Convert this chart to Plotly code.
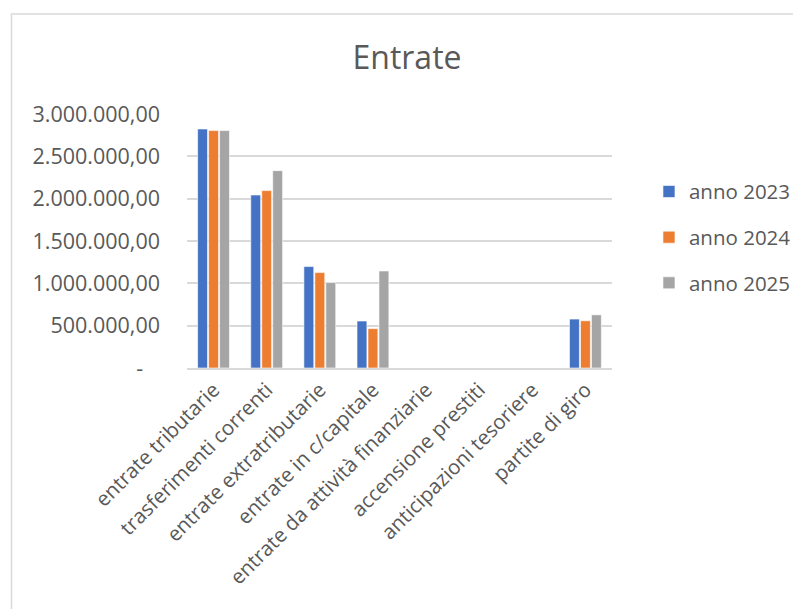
import plotly.graph_objects as go

categories = [
    "entrate tributarie",
    "trasferimenti correnti",
    "entrate extratributarie",
    "entrate in c/capitale",
    "entrate da attività finanziarie",
    "accensione prestiti",
    "anticipazioni tesoriere",
    "partite di giro",
]
anno_2023 = [2823000, 2043000, 1198000, 555000, 0, 0, 0, 578000]
anno_2024 = [2804000, 2095000, 1127000, 465000, 0, 0, 0, 558000]
anno_2025 = [2804000, 2331000, 1009000, 1146000, 0, 0, 0, 628000]

series_names = ["anno 2023", "anno 2024", "anno 2025"]
series_colors = ["#4472C4", "#ED7D31", "#A5A5A5"]

y_ticks = [0, 500000, 1000000, 1500000, 2000000, 2500000, 3000000]


def it_format(v):
    # Italian accounting style: dots for thousands, comma for decimals, dash for zero
    if v == 0:
        return "-\u00a0\u00a0\u00a0"
    s = f"{v:,.2f}"
    return s.replace(",", "X").replace(".", ",").replace("X", ".")


y_ticktext = [it_format(v) for v in y_ticks]

TEXT = "#595959"
GRID = "#D9D9D9"
FONT = "Open Sans"

fig = go.Figure()
for name, vals, col in zip(series_names, [anno_2023, anno_2024, anno_2025], series_colors):
    fig.add_trace(go.Bar(
        x=categories, y=vals, name=name, legendgroup=name,
        marker=dict(color=col, line=dict(color="white", width=0.6)),
    ))

fig.update_layout(
    width=793, height=609,
    margin=dict(l=187, r=181, t=114, b=241, autoexpand=False),
    paper_bgcolor="white", plot_bgcolor="white",
    font=dict(family=FONT, color=TEXT),
    barmode="group", bargap=0.38, bargroupgap=0.1,
    title=dict(text="Entrate", font=dict(size=32, color=TEXT, family=FONT),
               x=407 / 793, xanchor="center", xref="container",
               y=1 - 58 / 609, yanchor="middle", yref="container"),
    legend=dict(font=dict(size=20.5, color=TEXT), x=1.087, xanchor="left",
                xref="paper", y=0.773, yanchor="top", tracegroupgap=16,
                bgcolor="rgba(0,0,0,0)"),
    xaxis=dict(tickangle=-45, tickfont=dict(size=20.5, color=TEXT),
               showline=True, linecolor=GRID, linewidth=1.5,
               showgrid=False, ticks=""),
    yaxis=dict(range=[0, 3000000], tickvals=y_ticks, ticktext=y_ticktext,
               tickfont=dict(size=21.5, color=TEXT), showgrid=True,
               gridcolor=GRID, gridwidth=1.5, zeroline=False,
               ticklabelstandoff=26),
    shapes=[dict(type="rect", xref="paper", yref="paper",
                 x0=(11.5 - 187) / 425, x1=2.0,
                 y0=-2.0, y1=(368 - 14) / 254,
                 line=dict(color=GRID, width=1.5), fillcolor="rgba(0,0,0,0)",
                 layer="below")],
)

fig.write_html("out.html")
